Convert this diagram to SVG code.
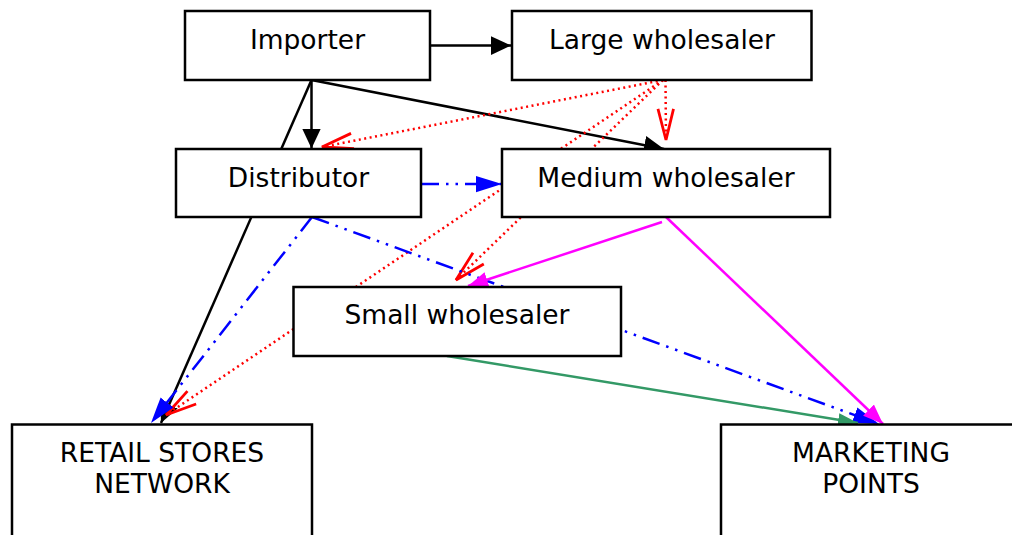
<svg xmlns="http://www.w3.org/2000/svg" width="1012" height="535" viewBox="0 0 1012 535">
<style>
.box{fill:#fff;stroke:#000;stroke-width:2.5}
.t{font-family:"DejaVu Sans",Verdana,sans-serif;font-size:26.5px;fill:#000;text-anchor:middle}
.blk{stroke:#000;stroke-width:2.5;fill:none}
.red{stroke:#f00;stroke-width:2.5;fill:none;stroke-dasharray:2 3.5}
.blu{stroke:#00f;stroke-width:2.5;fill:none;stroke-dasharray:18 7 2.5 7 2.5 7}
.mag{stroke:#f0f;stroke-width:2.5;fill:none}
.grn{stroke:#339966;stroke-width:2.5;fill:none}
</style>
<defs>
<marker id="aBlk" markerUnits="userSpaceOnUse" markerWidth="20" markerHeight="20" viewBox="0 0 16 16" refX="16" refY="8" orient="auto"><path d="M0,0.5 L16,8 L0,15.5 Z" fill="#000"/></marker>
<marker id="aBlu" markerUnits="userSpaceOnUse" markerWidth="26" markerHeight="20" viewBox="0 0 24 16" refX="24" refY="8" orient="auto"><path d="M0,0.5 L24,8 L0,15.5 Z" fill="#00f"/></marker>
<marker id="aMag" markerUnits="userSpaceOnUse" markerWidth="20" markerHeight="20" viewBox="0 0 18 14" refX="18" refY="7" orient="auto"><path d="M0,0 L18,7 L0,14 Z" fill="#f0f"/></marker>
<marker id="aGrn" markerUnits="userSpaceOnUse" markerWidth="20" markerHeight="20" viewBox="0 0 18 12" refX="18" refY="6" orient="auto"><path d="M0,0 L18,6 L0,12 Z" fill="#339966"/></marker>
<marker id="aRed" markerUnits="userSpaceOnUse" markerWidth="34" markerHeight="20" viewBox="0 0 30 18" refX="29" refY="9" orient="auto"><path d="M1,2 L29,9 L1,16" fill="none" stroke="#f00" stroke-width="2.5"/></marker>
</defs>
<g id="connectors">
<line class="blk" x1="430" y1="45.5" x2="511" y2="45.5" marker-end="url(#aBlk)"/>
<line class="blk" x1="311.5" y1="80" x2="311.5" y2="148.5" marker-end="url(#aBlk)"/>
<line class="blk" x1="311.5" y1="80" x2="664" y2="149" marker-end="url(#aBlk)"/>
<line class="blk" x1="311.5" y1="80" x2="161" y2="423" marker-end="url(#aBlk)"/>
<line class="red" x1="663" y1="80" x2="322" y2="147" marker-end="url(#aRed)"/>
<line class="red" x1="665.5" y1="80" x2="666" y2="140" marker-end="url(#aRed)"/>
<line class="red" x1="663" y1="80" x2="456" y2="280" marker-end="url(#aRed)"/>
<line class="red" x1="663" y1="80" x2="166" y2="415" marker-end="url(#aRed)"/>
<line class="blu" x1="421" y1="184" x2="502" y2="184" marker-end="url(#aBlu)"/>
<line class="blu" x1="312" y1="217" x2="151" y2="423" marker-end="url(#aBlu)"/>
<line class="blu" x1="312" y1="217" x2="879" y2="424" marker-end="url(#aBlu)"/>
<line class="mag" x1="662" y1="222" x2="468" y2="286" marker-end="url(#aMag)"/>
<line class="mag" x1="666" y1="217" x2="883" y2="424" marker-end="url(#aMag)"/>
<line class="grn" x1="447" y1="356" x2="858" y2="423" marker-end="url(#aGrn)"/>
</g>
<g id="importer"><rect class="box" x="185" y="11" width="245" height="69"/><text class="t" x="307.5" y="48.5">Importer</text></g>
<g id="large-wholesaler"><rect class="box" x="512" y="11" width="299.5" height="69"/><text class="t" x="662" y="48.5">Large wholesaler</text></g>
<g id="distributor"><rect class="box" x="176" y="149" width="245" height="68"/><text class="t" x="298.5" y="187">Distributor</text></g>
<g id="medium-wholesaler"><rect class="box" x="502" y="149" width="328" height="68"/><text class="t" x="666" y="187">Medium wholesaler</text></g>
<g id="small-wholesaler"><rect class="box" x="293.5" y="287" width="327.5" height="69"/><text class="t" x="457" y="323.5">Small wholesaler</text></g>
<g id="retail"><rect class="box" x="12" y="424.5" width="300" height="130"/><text class="t" x="162" y="462">RETAIL STORES</text><text class="t" x="162" y="493">NETWORK</text></g>
<g id="marketing"><rect class="box" x="721" y="424.5" width="300" height="130"/><text class="t" x="871" y="462">MARKETING</text><text class="t" x="871" y="493">POINTS</text></g>
</svg>
